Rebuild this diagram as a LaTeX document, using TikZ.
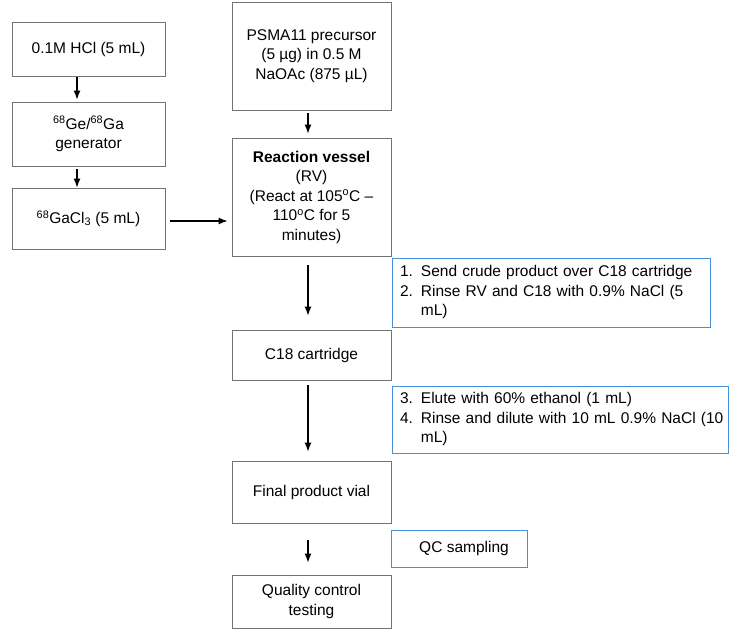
\documentclass[tikz,border=0pt]{standalone}
\usepackage{fontspec}
\setmainfont{Liberation Sans}
\usetikzlibrary{arrows.meta}
\definecolor{stepblue}{RGB}{68,142,218}
\begin{document}
\begin{tikzpicture}[x=1pt, y=-1pt,
	font=\fontsize{15.5}{19.5}\selectfont,
	>={Latex[length=9pt,width=7pt]},
	box/.style={draw=black!55, line width=0.9pt, rectangle, align=center, inner sep=2pt},
	bluebox/.style={draw=stepblue, line width=0.9pt, rectangle, align=left, inner xsep=8pt}]
	\useasboundingbox (0,0) rectangle (740,631);

	\node[box, minimum width=153pt, minimum height=54pt] (hcl) at (88.5,49) {0.1M HCl (5 mL)};
	\node[box, minimum width=153pt, minimum height=64pt] (gen) at (88.5,134) {\textsuperscript{68}Ge/\textsuperscript{68}Ga\\generator};
	\node[box, minimum width=153pt, minimum height=61pt] (gacl) at (88.5,218.5) {\textsuperscript{68}GaCl\textsubscript{3} (5 mL)};

	\node[box, minimum width=159pt, minimum height=108pt] (psma) at (311.5,56) {PSMA11 precursor\\(5 µg) in 0.5 M\\NaOAc (875 µL)};
	\node[box, minimum width=159pt, minimum height=118pt] (rv) at (311.5,197) {\textbf{Reaction vessel}\\(RV)\\(React at 105\textsuperscript{o}C –\\110\textsuperscript{o}C for 5\\minutes)};
	\node[box, minimum width=159pt, minimum height=50pt] (c18) at (311.5,355) {C18 cartridge};
	\node[box, minimum width=159pt, minimum height=62pt] (vial) at (311.5,492) {Final product vial};
	\node[box, minimum width=159pt, minimum height=53pt] (qct) at (311.5,601.5) {Quality control\\testing};

	\node[bluebox, minimum width=318pt, minimum height=69pt, text width=302pt] (st1) at (551,292.5) {\begin{tabular}{@{}l@{\hspace{8pt}}l@{}}1. & Send crude product over C18 cartridge\\2. & Rinse RV and C18 with 0.9\% NaCl (5\\ & mL)\end{tabular}};
	\node[bluebox, minimum width=336pt, minimum height=67pt, text width=320pt] (st2) at (560,419.5) {\begin{tabular}{@{}l@{\hspace{8pt}}l@{}}3. & Elute with 60\% ethanol (1 mL)\\4. & Rinse and dilute with 10 mL 0.9\% NaCl (10\\ & mL)\end{tabular}};
	\node[bluebox, minimum width=136pt, minimum height=37pt, align=center] (qcs) at (459,548.5) {\hspace{10pt}QC sampling};

	\draw[->, line width=1.1pt, shorten <=1pt, shorten >=2pt] ([xshift=-11.5pt]hcl.south) -- ([xshift=-11.5pt]gen.north);
	\draw[->, line width=1.1pt, shorten <=3pt, shorten >=0pt] ([xshift=-11.5pt]gen.south) -- ([xshift=-11.5pt]gacl.north);
	\draw[->, line width=1.1pt, shorten <=5pt, shorten >=4pt] ([yshift=-2.5pt]gacl.east) -- ([yshift=-2.5pt]gacl.east -| rv.west);
	\draw[->, line width=1.1pt, shorten <=3pt, shorten >=4pt] ([xshift=-3.5pt]psma.south) -- ([xshift=-3.5pt]rv.north);
	\draw[->, line width=1.1pt, shorten <=9pt, shorten >=14pt] ([xshift=-3.5pt]rv.south) -- ([xshift=-3.5pt]c18.north);
	\draw[->, line width=1.1pt, shorten <=5pt, shorten >=9pt] ([xshift=-3.5pt]c18.south) -- ([xshift=-3.5pt]vial.north);
	\draw[->, line width=1.1pt, shorten <=17pt, shorten >=12pt] ([xshift=-3.5pt]vial.south) -- ([xshift=-3.5pt]qct.north);
\end{tikzpicture}
\end{document}
